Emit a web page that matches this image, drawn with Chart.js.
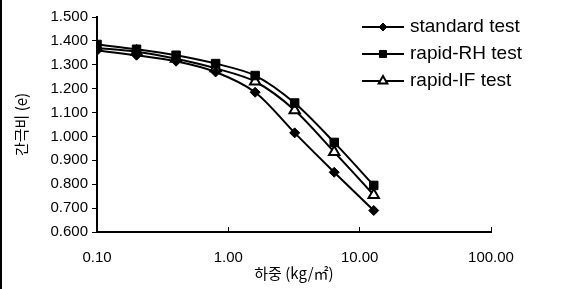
<!DOCTYPE html>
<html>
<head>
<meta charset="utf-8">
<script src="https://cdn.jsdelivr.net/npm/chart.js@4.4.1/dist/chart.umd.min.js"></script>
<style>
  html, body { margin: 0; padding: 0; background: #fff; }
  #wrap { width: 586px; height: 289px; position: relative; }
</style>
</head>
<body>
<div id="wrap"><canvas id="chartCanvas"></canvas></div>
<script>
// 하중 (load) values on the log axis
var loads = [0.1, 0.2, 0.4, 0.8, 1.6, 3.2, 6.4, 12.8];
var standardTest = [1.360, 1.340, 1.315, 1.270, 1.185, 1.015, 0.850, 0.690];
var rapidRH = [1.385, 1.365, 1.340, 1.305, 1.255, 1.140, 0.975, 0.795];
var rapidIF = [1.370, 1.355, 1.325, 1.285, 1.230, 1.110, 0.935, 0.755];
var xTicks = [0.1, 1, 10, 100];
var seriesNames = ["standard test", "rapid-RH test", "rapid-IF test"];

function toPoints(vals) {
    var pts = [];
    for (var i = 0; i < loads.length; i++) pts.push({ x: loads[i], y: vals[i] });
    return pts;
}

var font = "'Liberation Sans', Arial, sans-serif";

// legend drawn in the upper right, like the scanned figure
var sideLegend = {
    id: "sideLegend",
    afterDraw: function (chart) {
        var ctx = chart.ctx;
        ctx.save();
        // black scan edge on the left
        ctx.fillStyle = "#000";
        ctx.fillRect(0, 0, 2, chart.height);
        var x0 = 362, x1 = 404, y = 27;
        chart.data.datasets.forEach(function (ds) {
            ctx.strokeStyle = "#000";
            ctx.lineWidth = 2;
            ctx.beginPath();
            ctx.moveTo(x0, y);
            ctx.lineTo(x1, y);
            ctx.stroke();
            ctx.fillStyle = ds.pointBackgroundColor;
            ctx.strokeStyle = "#000";
            ctx.lineWidth = ds.pointBorderWidth;
            Chart.helpers.drawPoint(ctx, {
                pointStyle: ds.pointStyle,
                radius: ds.pointRadius - 1,
                borderWidth: ds.pointBorderWidth
            }, (x0 + x1) / 2, y);
            ctx.fillStyle = "#000";
            ctx.font = "19px " + font;
            ctx.textBaseline = "middle";
            ctx.fillText(ds.label, x1 + 6, y);
            y += 27;
        });
        ctx.restore();
    }
};

new Chart(document.getElementById("chartCanvas"), {
    type: "line",
    data: {
        datasets: [{
            label: seriesNames[0],
            data: toPoints(standardTest),
            borderColor: "#000",
            borderWidth: 2,
            pointStyle: "rectRot",
            pointRadius: 5,
            pointBackgroundColor: "#000",
            pointBorderColor: "#000",
            pointBorderWidth: 1,
            tension: 0.3
        }, {
            label: seriesNames[1],
            data: toPoints(rapidRH),
            borderColor: "#000",
            borderWidth: 2,
            pointStyle: "rect",
            pointRadius: 6,
            pointBackgroundColor: "#000",
            pointBorderColor: "#000",
            pointBorderWidth: 1,
            tension: 0.3
        }, {
            label: seriesNames[2],
            data: toPoints(rapidIF),
            borderColor: "#000",
            borderWidth: 2,
            pointStyle: "triangle",
            pointRadius: 6,
            pointBackgroundColor: "#fff",
            pointBorderColor: "#000",
            pointBorderWidth: 2,
            tension: 0.3
        }]
    },
    options: {
        responsive: true,
        maintainAspectRatio: false,
        animation: false,
        layout: { padding: { left: 12, right: 95, top: 17, bottom: 7 } },
        plugins: {
            legend: { display: false },
            tooltip: { enabled: false }
        },
        scales: {
            x: {
                type: "logarithmic",
                min: 0.1,
                max: 100,
                afterBuildTicks: function (axis) {
                    axis.ticks = xTicks.map(function (v) { return { value: v }; });
                },
                grid: {
                    display: true,
                    drawOnChartArea: false,
                    drawTicks: true,
                    tickLength: -5,
                    color: "#000"
                },
                border: { display: true, color: "#000", width: 2 },
                ticks: {
                    color: "#000",
                    font: { family: font, size: 15 },
                    padding: 22,
                    maxRotation: 0,
                    callback: function (v) { return Number(v).toFixed(2); }
                },
                title: {
                    display: true,
                    text: "하중 (kg/㎡)",
                    color: "#000",
                    font: { family: "'Noto Sans CJK KR', sans-serif", size: 15 },
                    padding: { top: -25, bottom: 0 }
                }
            },
            y: {
                min: 0.6,
                max: 1.5,
                afterFit: function (axis) { axis.width = 85; },
                ticks: {
                    stepSize: 0.1,
                    color: "#000",
                    font: { family: font, size: 15 },
                    padding: 4,
                    callback: function (v) { return Number(v).toFixed(3); }
                },
                grid: {
                    display: true,
                    drawOnChartArea: false,
                    drawTicks: true,
                    tickLength: 5,
                    color: "#000"
                },
                border: { display: true, color: "#000", width: 2 },
                title: {
                    display: true,
                    text: "간극비 (e)",
                    color: "#000",
                    font: { family: "'Noto Sans CJK KR', sans-serif", size: 15 },
                    padding: { top: 0, bottom: 4 }
                }
            }
        }
    },
    plugins: [sideLegend]
});
</script>
</body>
</html>
